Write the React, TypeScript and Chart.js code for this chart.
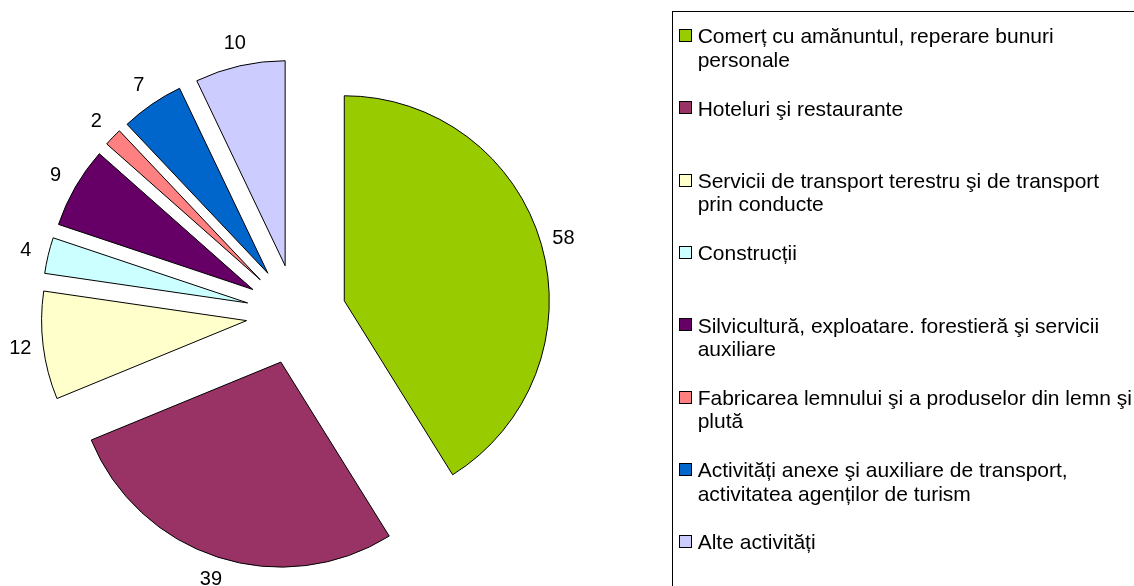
import React, { useEffect, useRef } from "react";
import { Chart, registerables } from "chart.js";

Chart.register(...registerables);

const categories: string[][] = [
  ["Comerț cu amănuntul, reperare bunuri", "personale"],
  ["Hoteluri şi restaurante"],
  ["Servicii de transport terestru şi de transport", "prin conducte"],
  ["Construcții"],
  ["Silvicultură, exploatare. forestieră şi servicii", "auxiliare"],
  ["Fabricarea lemnului şi a produselor din lemn şi", "plută"],
  ["Activități anexe şi auxiliare de transport,", "activitatea agenților de turism"],
  ["Alte activități"],
];

const values: number[] = [58, 39, 12, 4, 9, 2, 7, 10];

const colors: string[] = [
  "#99CC00",
  "#993366",
  "#FFFFCC",
  "#CCFFFF",
  "#660066",
  "#FF8080",
  "#0066CC",
  "#CCCCFF",
];

const EXPLODE = 50;
const RADIUS = 205;
const LABEL_GAP = 23;
const FONT = "'Liberation Sans', Arial, Helvetica, sans-serif";

const explodePlugin = {
  id: "explodeAndLabels",
  beforeDatasetsDraw(chart: any) {
    const area = chart.chartArea;
    const cx = (area.left + area.right) / 2;
    const cy = (area.top + area.bottom) / 2;
    const meta = chart.getDatasetMeta(0);
    meta.data.forEach((arc: any) => {
      const mid = (arc.startAngle + arc.endAngle) / 2;
      arc.x = cx + EXPLODE * Math.cos(mid);
      arc.y = cy + EXPLODE * Math.sin(mid);
    });
  },
  afterDatasetsDraw(chart: any) {
    const ctx = chart.ctx;
    const meta = chart.getDatasetMeta(0);
    ctx.save();
    ctx.font = `20px ${FONT}`;
    ctx.fillStyle = "#000";
    ctx.textAlign = "center";
    ctx.textBaseline = "middle";
    meta.data.forEach((arc: any, i: number) => {
      const mid = (arc.startAngle + arc.endAngle) / 2;
      const r = arc.outerRadius + LABEL_GAP;
      ctx.fillText(String(values[i]), arc.x + r * Math.cos(mid), arc.y + r * Math.sin(mid));
    });
    ctx.restore();
  },
};

export default function App() {
  const canvasRef = useRef<HTMLCanvasElement | null>(null);

  useEffect(() => {
    if (!canvasRef.current) return;
    const chart = new Chart(canvasRef.current, {
      type: "pie",
      data: {
        labels: categories.map((c) => c.join(" ")),
        datasets: [
          {
            data: values,
            backgroundColor: colors,
            borderColor: "#000",
            borderWidth: 1,
            offset: 0,
            radius: RADIUS,
            clip: false,
          } as any,
        ],
      },
      options: {
        responsive: false,
        animation: false,
        events: [],
        layout: { padding: { left: 0, right: 541.6, top: 43, bottom: 0 } },
        plugins: {
          legend: { display: false },
          tooltip: { enabled: false },
        },
      } as any,
      plugins: [explodePlugin as any],
    });
    return () => chart.destroy();
  }, []);

  const itemTop = (i: number) => 24.3 + 72.3 * i;

  return (
    <div
      style={{
        position: "fixed",
        left: 0,
        top: 0,
        width: 1134,
        height: 586,
        overflow: "hidden",
        background: "#fff",
        fontFamily: FONT,
      }}
    >
      <canvas
        ref={canvasRef}
        width={1134}
        height={586}
        style={{ position: "absolute", left: 0, top: 0, width: 1134, height: 586 }}
      />
      <div
        style={{
          position: "absolute",
          left: 672,
          top: 11,
          width: 600,
          height: 700,
          border: "1px solid #000",
          boxSizing: "border-box",
        }}
      />
      {categories.map((lines, i) => (
        <div key={i}>
          <div
            style={{
              position: "absolute",
              left: 679,
              top: itemTop(i) + 4.7,
              width: 13,
              height: 13,
              boxSizing: "border-box",
              border: "1px solid #000",
              background: colors[i],
            }}
          />
          <div
            style={{
              position: "absolute",
              left: 697.7,
              top: itemTop(i),
              fontSize: 21,
              lineHeight: "23.5px",
              color: "#000",
              whiteSpace: "nowrap",
            }}
          >
            {lines.map((l, j) => (
              <div key={j}>{l}</div>
            ))}
          </div>
        </div>
      ))}
    </div>
  );
}
